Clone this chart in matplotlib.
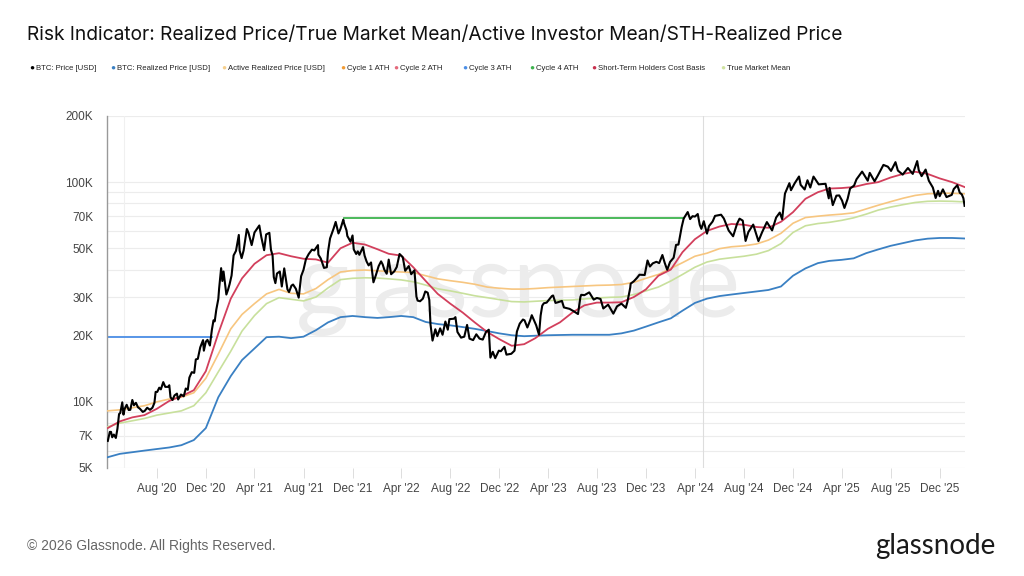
import pandas as pd
import matplotlib.pyplot as plt
from matplotlib.ticker import FixedLocator, NullFormatter, NullLocator

plt.rcParams['font.family'] = ['Liberation Sans', 'DejaVu Sans']

# monthly on-chain cost-basis models (1st of each month, Apr 2020 .. Feb 2026)
months = pd.date_range('2020-04-01', '2026-02-01', freq='MS')

realized_price = [
    5600, 5800, 5900, 6000, 6100, 6200, 6350, 6700, 7600, 10500, 13100, 15500,
    17500, 19700, 19800, 19500, 19800, 21200, 23000, 24300, 24600, 24300, 24100, 24300,
    24600, 24300, 23100, 22600, 22300, 21900, 21500, 21000, 20500, 20100, 19900, 20000,
    20100, 20150, 20200, 20200, 20200, 20200, 20500, 21100, 22000, 23000, 24000, 26000,
    28200, 29500, 30300, 30800, 31300, 31800, 32300, 33500, 37500, 40500, 42800, 43800,
    44300, 45000, 47500, 49400, 51300, 52800, 54300, 55300, 55700, 55700, 55400]

active_realized = [
    9100, 9200, 9400, 9600, 10000, 10300, 10500, 11000, 12800, 16500, 21500, 25000,
    28000, 31000, 32500, 31200, 31000, 32800, 36000, 39000, 39600, 39800, 39500, 39200,
    39000, 38800, 37500, 36300, 35600, 35000, 34300, 33300, 32900, 32600, 32600, 32800,
    33100, 33300, 33500, 33700, 33900, 34000, 34200, 35000, 36500, 38000, 40500, 43000,
    46000, 47500, 49800, 50800, 51300, 52300, 54500, 58500, 65000, 69000, 70000, 70800,
    71500, 72500, 75500, 78500, 81500, 84500, 87000, 88500, 89000, 89000, 88500]

sth_cost_basis = [
    7600, 8150, 8500, 8700, 9300, 10100, 10600, 11300, 13800, 20500, 29500, 36500,
    42500, 46500, 47500, 46000, 44800, 44500, 43000, 50000, 53000, 52000, 49500, 47200,
    46300, 41000, 35500, 31000, 28000, 25500, 23000, 20800, 19300, 18000, 18300, 19500,
    21500, 23000, 25500, 27500, 28300, 28300, 28400, 30000, 32500, 37500, 40000, 48000,
    55000, 60000, 62800, 64500, 64000, 62500, 62000, 66000, 73000, 84000, 90000, 93500,
    94000, 95000, 98000, 100000, 105000, 109000, 111500, 109000, 104000, 100000, 95000]

true_market_mean = [
    7700, 8000, 8200, 8400, 8700, 8900, 9100, 9600, 11000, 13700, 17000, 21000,
    24700, 28000, 29800, 29300, 28800, 30000, 33000, 36000, 36500, 36700, 36600, 36300,
    35900, 35200, 34000, 32700, 32000, 31200, 30400, 29800, 29200, 28600, 28500, 28700,
    28900, 29000, 29100, 29400, 29700, 29900, 30000, 30800, 32000, 33300, 35500, 38000,
    41000, 43300, 44600, 45300, 46000, 47000, 48800, 52500, 59000, 63300, 64800, 65600,
    67000, 68800, 71500, 74600, 77000, 79000, 80800, 81800, 82000, 81800, 81300]

# BTC spot price
price_dates = [
    '2020-04-01', '2020-04-06', '2020-04-09', '2020-04-12', '2020-04-16', '2020-04-21',
    '2020-04-25', '2020-04-29', '2020-05-02', '2020-05-07', '2020-05-10', '2020-05-13',
    '2020-05-18', '2020-05-23', '2020-05-27', '2020-06-01', '2020-06-05', '2020-06-10',
    '2020-06-15', '2020-06-20', '2020-06-27', '2020-07-02', '2020-07-08', '2020-07-15',
    '2020-07-21', '2020-07-26', '2020-07-29', '2020-08-02', '2020-08-07', '2020-08-11',
    '2020-08-17', '2020-08-22', '2020-08-29', '2020-09-01', '2020-09-04', '2020-09-09',
    '2020-09-14', '2020-09-20', '2020-09-23', '2020-09-30', '2020-10-07', '2020-10-12',
    '2020-10-17', '2020-10-21', '2020-10-27', '2020-11-02', '2020-11-06', '2020-11-11',
    '2020-11-17', '2020-11-24', '2020-11-26', '2020-12-01', '2020-12-05', '2020-12-11',
    '2020-12-16', '2020-12-20', '2020-12-23', '2020-12-27', '2021-01-01', '2021-01-03',
    '2021-01-08', '2021-01-11', '2021-01-14', '2021-01-21', '2021-01-25', '2021-01-29',
    '2021-02-03', '2021-02-08', '2021-02-14', '2021-02-21', '2021-02-23', '2021-02-28',
    '2021-03-05', '2021-03-13', '2021-03-17', '2021-03-25', '2021-04-01', '2021-04-13',
    '2021-04-18', '2021-04-25', '2021-04-30', '2021-05-08', '2021-05-12', '2021-05-16',
    '2021-05-19', '2021-05-23', '2021-05-27', '2021-06-03', '2021-06-08', '2021-06-14',
    '2021-06-22', '2021-06-26', '2021-07-02', '2021-07-06', '2021-07-13', '2021-07-20',
    '2021-07-26', '2021-08-01', '2021-08-07', '2021-08-14', '2021-08-22', '2021-08-28',
    '2021-09-06', '2021-09-07', '2021-09-13', '2021-09-21', '2021-09-28', '2021-10-01',
    '2021-10-06', '2021-10-15', '2021-10-20', '2021-10-27', '2021-11-01', '2021-11-08',
    '2021-11-10', '2021-11-16', '2021-11-18', '2021-11-26', '2021-12-01', '2021-12-04',
    '2021-12-10', '2021-12-14', '2021-12-18', '2021-12-27', '2021-12-31', '2022-01-05',
    '2022-01-10', '2022-01-16', '2022-01-22', '2022-01-28', '2022-02-04', '2022-02-10',
    '2022-02-14', '2022-02-18', '2022-02-24', '2022-03-01', '2022-03-07', '2022-03-15',
    '2022-03-21', '2022-03-28', '2022-04-05', '2022-04-11', '2022-04-20', '2022-04-26',
    '2022-05-04', '2022-05-09', '2022-05-12', '2022-05-18', '2022-05-25', '2022-05-31',
    '2022-06-06', '2022-06-10', '2022-06-13', '2022-06-18', '2022-06-25', '2022-06-30',
    '2022-07-07', '2022-07-13', '2022-07-20', '2022-07-26', '2022-07-30', '2022-08-10',
    '2022-08-14', '2022-08-19', '2022-08-28', '2022-09-05', '2022-09-12', '2022-09-18',
    '2022-09-27', '2022-10-05', '2022-10-13', '2022-10-21', '2022-10-29', '2022-11-05',
    '2022-11-09', '2022-11-15', '2022-11-21', '2022-11-30', '2022-12-05', '2022-12-14',
    '2022-12-19', '2022-12-31', '2023-01-08', '2023-01-14', '2023-01-21', '2023-01-29',
    '2023-02-02', '2023-02-09', '2023-02-16', '2023-02-20', '2023-03-03', '2023-03-10',
    '2023-03-14', '2023-03-18', '2023-03-22', '2023-03-29', '2023-04-11', '2023-04-14',
    '2023-04-20', '2023-04-26', '2023-05-06', '2023-05-11', '2023-05-25', '2023-06-05',
    '2023-06-15', '2023-06-21', '2023-06-23', '2023-07-01', '2023-07-13', '2023-07-24',
    '2023-08-01', '2023-08-10', '2023-08-17', '2023-08-29', '2023-09-11', '2023-09-20',
    '2023-10-01', '2023-10-12', '2023-10-16', '2023-10-23', '2023-10-24', '2023-11-01',
    '2023-11-09', '2023-11-15', '2023-11-28', '2023-12-05', '2023-12-11', '2023-12-18',
    '2023-12-27', '2024-01-03', '2024-01-11', '2024-01-17', '2024-01-23', '2024-01-30',
    '2024-02-08', '2024-02-14', '2024-02-20', '2024-02-28', '2024-03-04', '2024-03-14',
    '2024-03-20', '2024-03-26', '2024-04-01', '2024-04-08', '2024-04-13', '2024-04-17',
    '2024-04-23', '2024-05-01', '2024-05-06', '2024-05-15', '2024-05-21', '2024-06-05',
    '2024-06-12', '2024-06-24', '2024-07-05', '2024-07-15', '2024-07-21', '2024-07-29',
    '2024-08-05', '2024-08-12', '2024-08-24', '2024-09-06', '2024-09-15', '2024-09-27',
    '2024-10-10', '2024-10-20', '2024-10-29', '2024-11-04', '2024-11-11', '2024-11-22',
    '2024-11-26', '2024-12-05', '2024-12-16', '2024-12-20', '2024-12-30', '2025-01-06',
    '2025-01-13', '2025-01-21', '2025-01-27', '2025-02-03', '2025-02-20', '2025-02-28',
    '2025-03-02', '2025-03-10', '2025-03-19', '2025-03-26', '2025-04-02', '2025-04-08',
    '2025-04-16', '2025-04-22', '2025-05-02', '2025-05-08', '2025-05-22', '2025-06-05',
    '2025-06-10', '2025-06-22', '2025-06-30', '2025-07-10', '2025-07-14', '2025-07-25',
    '2025-08-02', '2025-08-13', '2025-08-19', '2025-08-31', '2025-09-13', '2025-09-25',
    '2025-10-06', '2025-10-10', '2025-10-17', '2025-10-27', '2025-11-04', '2025-11-14',
    '2025-11-21', '2025-11-27', '2025-12-01', '2025-12-09', '2025-12-18', '2025-12-31',
    '2026-01-05', '2026-01-14', '2026-01-20', '2026-01-25', '2026-01-29', '2026-02-01']
price = [
    6640, 7300, 7300, 6900, 7100, 6850,
    7550, 8800, 8900, 9950, 8750, 9300,
    9700, 9180, 9200, 10200, 9650, 9900,
    9450, 9300, 9000, 9100, 9400, 9200,
    9400, 9900, 11100, 11100, 11600, 11400,
    12300, 11700, 11700, 11900, 10500, 10200,
    10700, 10900, 10250, 10800, 10600, 11500,
    11350, 12900, 13650, 13550, 15600, 15700,
    17700, 19100, 17100, 18800, 19150, 18050,
    21300, 23500, 23250, 26300, 29400, 32800,
    40600, 35500, 39200, 30800, 32300, 34300,
    37600, 46400, 48700, 57500, 48800, 45100,
    48900, 61200, 58900, 51700, 59000, 63500,
    56200, 49000, 57800, 58800, 49200, 46400,
    37000, 34700, 38400, 39200, 33500, 40500,
    32500, 31600, 33800, 34200, 32700, 29800,
    37300, 39900, 44600, 47100, 49300, 48900,
    51700, 46800, 44900, 40700, 41000, 48200,
    55400, 61600, 65900, 58400, 61300, 67500,
    64900, 60300, 56900, 53600, 57200, 49400,
    47100, 48400, 46700, 50600, 46300, 43500,
    41800, 43100, 35000, 37700, 41500, 43600,
    42200, 40000, 38300, 44400, 38100, 39300,
    41100, 47100, 45500, 39500, 41500, 38100,
    39700, 30100, 28900, 28700, 29500, 31800,
    31400, 29100, 22500, 19000, 21400, 19900,
    21600, 20200, 23200, 21300, 23800, 23900,
    24300, 20800, 19600, 19800, 22400, 19400,
    19100, 20300, 19400, 19200, 20800, 21300,
    15900, 16900, 15800, 17100, 17000, 17800,
    16400, 16550, 17100, 20900, 22700, 23700,
    23500, 21800, 23500, 24800, 22300, 20200,
    24700, 27400, 28100, 28300, 30300, 30500,
    28200, 28400, 28800, 26900, 26500, 25800,
    25100, 30000, 30700, 30600, 31500, 29200,
    29700, 29400, 26600, 27700, 25200, 27200,
    28000, 26800, 28500, 33100, 34500, 35400,
    36700, 37900, 37800, 44000, 41300, 42700,
    43400, 42800, 46600, 42800, 39900, 43300,
    45300, 51800, 52000, 62500, 68300, 73100,
    67900, 70000, 69700, 71600, 63900, 61300,
    66400, 58300, 63100, 66200, 70200, 71100,
    68300, 60200, 56700, 64800, 68200, 66800,
    54000, 59300, 64100, 53900, 59100, 65800,
    60300, 69000, 72700, 67800, 88700, 98900,
    91900, 98700, 106100, 97200, 92600, 102000,
    94500, 106000, 102000, 97700, 98300, 84400,
    94200, 78600, 86800, 87000, 82500, 76300,
    84000, 93500, 96500, 103000, 111700, 101500,
    110200, 100900, 107100, 116000, 119800, 117600,
    112500, 123300, 112900, 108200, 116000, 109000,
    124700, 113200, 106500, 114100, 101500, 94500,
    84700, 91300, 86300, 92700, 85500, 87500,
    93000, 96900, 89500, 88000, 84500, 78000]

# previous cycle all-time highs, drawn until price breaks above them
cycle3_ath = 19700
cycle3_span = ['2020-03-30', '2020-12-16']
cycle4_ath = 68800
cycle4_span = ['2021-11-10', '2024-03-05']
halvings = ['2020-05-11', '2024-04-20']

legend_labels = ['BTC: Price [USD]', 'BTC: Realized Price [USD]', 'Active Realized Price [USD]',
                 'Cycle 1 ATH', 'Cycle 2 ATH', 'Cycle 3 ATH', 'Cycle 4 ATH',
                 'Short-Term Holders Cost Basis', 'True Market Mean']
legend_colors = ['#000000', '#3a80c3', '#f6cf8c', '#f39c34', '#e46a7c', '#4b8ee6',
                 '#3db34d', '#c8304e', '#cfe3a0']
legend_x = [32, 113, 224, 343, 396, 465, 532, 594, 723]

y_ticks = [5000, 7000, 10000, 20000, 30000, 50000, 70000, 100000, 200000]
y_labels = ['5K', '7K', '10K', '20K', '30K', '50K', '70K', '100K', '200K']
grid_vals = [5000, 6000, 7000, 8000, 9000] + [10000 * k for k in range(1, 11)] + [200000]

fig = plt.figure(figsize=(10.24, 5.76), dpi=100)
ax = fig.add_axes([107 / 1024, 1 - 468 / 576, 858 / 1024, 352 / 576])

pdates = pd.to_datetime(price_dates)

ax.text(0.48, 0.51, 'glassnode', transform=ax.transAxes, ha='center', va='center',
        fontsize=74, color='#ececec', family=['Lato', 'DejaVu Sans'], zorder=0)

for g in grid_vals:
    ax.axhline(g, color='#ececec', lw=0.8, zorder=1)
ax.axvline(pd.Timestamp(halvings[0]), color='#f0f0f0', lw=0.8, zorder=1)
ax.axvline(pd.Timestamp(halvings[1]), color='#dddddd', lw=0.8, zorder=1)

ax.plot(pd.to_datetime(cycle3_span), [cycle3_ath] * 2, color='#4b8ee6', lw=1.3, zorder=2)
ax.plot(pd.to_datetime(cycle4_span), [cycle4_ath] * 2, color='#3db34d', lw=1.3, zorder=2)
ax.plot(months, realized_price, color='#3a80c3', lw=1.3, zorder=3)
ax.plot(months, true_market_mean, color='#c8e09c', lw=1.2, zorder=3)
ax.plot(months, active_realized, color='#f7c680', lw=1.2, zorder=3)
ax.plot(months, sth_cost_basis, color='#d23f5c', lw=1.3, zorder=4)
ax.plot(pdates, price, color='black', lw=1.5, zorder=5)

ax.set_yscale('log')
ax.set_ylim(5000, 200000)
ax.set_xlim(pd.Timestamp('2020-03-30'), pd.Timestamp('2026-02-02'))
ax.yaxis.set_major_locator(FixedLocator(y_ticks))
ax.set_yticklabels(y_labels)
ax.yaxis.set_minor_locator(NullLocator())
ax.yaxis.set_minor_formatter(NullFormatter())

xt = pd.date_range('2020-08-01', '2025-12-01', freq='4MS')
ax.set_xticks(xt)
ax.set_xticklabels([d.strftime("%b '%y") for d in xt])

for s in ['top', 'right', 'bottom']:
    ax.spines[s].set_visible(False)
ax.spines['left'].set_color('#999999')
ax.spines['left'].set_linewidth(1.0)
ax.tick_params(axis='y', length=0, pad=10, labelsize=8.5, labelcolor='#444444')
ax.tick_params(axis='x', length=7, width=0.7, color='#dddddd', pad=4,
               labelsize=8.5, labelcolor='#444444')

fig.text(27 / 1024, 1 - 35 / 576, 'Risk Indicator: Realized Price/True Market Mean/Active Investor Mean/STH-Realized Price',
         fontsize=13.8, color='#111111', va='center', family=['Inter', 'DejaVu Sans'])

for lx, lab, col in zip(legend_x, legend_labels, legend_colors):
    fig.text(lx / 1024, 1 - 68.5 / 576, '\u25cf', color=col, fontsize=6, va='center', ha='center')
    fig.text((lx + 4) / 1024, 1 - 68 / 576, lab, color='#222222', fontsize=5.6, va='center')

fig.text(27 / 1024, 1 - 546 / 576, '\u00a9 2026 Glassnode. All Rights Reserved.',
         fontsize=10, color='#666666', va='center')
fig.text(996 / 1024, 1 - 546 / 576, 'glassnode', fontsize=20, color='#1a1a1a',
         va='center', ha='right', family=['Lato', 'DejaVu Sans'])

fig.savefig('out.png', dpi=100)
